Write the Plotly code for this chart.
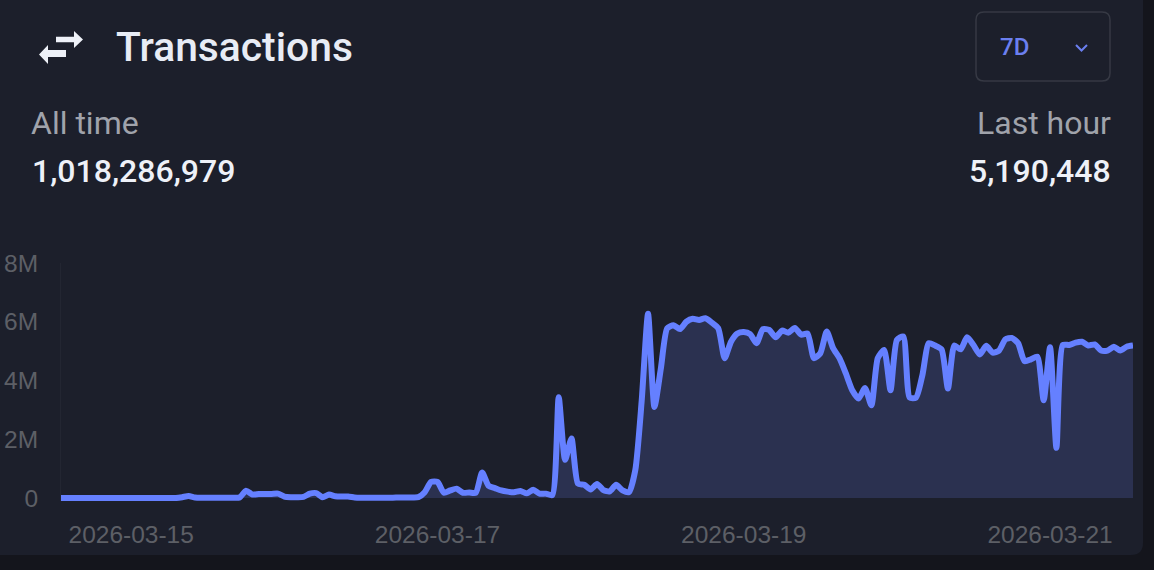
import pandas as pd
import plotly.graph_objects as go

W, H = 1154, 570
LEFT, RIGHT, TOP, BOTTOM = 61, 1133, 263, 501

# hourly transactions, in millions
values = [
    0.0, 0.0, 0.0, 0.0, 0.0, 0.0, 0.0, 0.0, 0.0, 0.0,
    0.0, 0.0, 0.0, 0.0, 0.0, 0.0, 0.0, 0.0, 0.0, 0.03,
    0.07, 0.02, 0.01, 0.01, 0.01, 0.01, 0.01, 0.01, 0.02, 0.25,
    0.12, 0.14, 0.14, 0.14, 0.15, 0.05, 0.03, 0.03, 0.04, 0.15,
    0.17, 0.03, 0.12, 0.06, 0.05, 0.05, 0.02, 0.01, 0.01, 0.01,
    0.01, 0.01, 0.01, 0.02, 0.02, 0.02, 0.03, 0.2, 0.55, 0.55,
    0.18, 0.26, 0.32, 0.18, 0.19, 0.18, 0.87, 0.42, 0.34, 0.26,
    0.22, 0.2, 0.24, 0.16, 0.28, 0.15, 0.15, 0.1, 3.43, 1.3,
    2.03, 0.5, 0.45, 0.29, 0.48, 0.27, 0.23, 0.45, 0.26, 0.2,
    0.95, 3.3, 6.27, 3.1, 4.4, 5.78, 5.88, 5.75, 6.0, 6.1,
    6.06, 6.12, 5.97, 5.78, 4.76, 5.32, 5.6, 5.65, 5.58, 5.27,
    5.75, 5.72, 5.47, 5.7, 5.63, 5.79, 5.56, 5.6, 4.76, 4.93,
    5.67, 5.1, 4.76, 4.24, 3.67, 3.39, 3.75, 3.16, 4.76, 5.04,
    3.67, 5.38, 5.5, 3.42, 3.42, 4.19, 5.27, 5.19, 5.06, 3.73,
    5.19, 5.06, 5.47, 5.21, 4.89, 5.18, 4.95, 5.02, 5.4, 5.45,
    5.27, 4.66, 4.72, 4.81, 3.33, 5.13, 1.71, 5.21, 5.21, 5.29,
    5.32, 5.19, 5.23, 5.02, 5.02, 5.15, 5.02, 5.15, 5.19,
]
dates = pd.date_range("2026-03-14 13:00", periods=len(values), freq="h")
y_ticks = [0, 2, 4, 6, 8]
y_tick_labels = ["0", "2M", "4M", "6M", "8M"]
x_ticks = ["2026-03-15", "2026-03-17", "2026-03-19", "2026-03-21"]

title = "Transactions"
range_label = "7D"
all_time_label, all_time_value = "All time", "1,018,286,979"
last_hour_label, last_hour_value = "Last hour", "5,190,448"

PAGE = "#14151c"
CARD = "#1c1f2b"
BLUE = "#6580ff"
TICK = "#5d5f66"


# paper coordinates run over the plot area, so convert from page pixels
def px(x):
    return (x - LEFT) / (RIGHT - LEFT)


def py(y):
    return (BOTTOM - y) / (BOTTOM - TOP)


def path(points, close=False):
    d = "M " + " L ".join(f"{px(x):.5f},{py(y):.5f}" for x, y in points)
    return d + (" Z" if close else "")


def rounded(x0, y0, x1, y1, r):
    # rounded rectangle in pixel coordinates
    fx, fy = px, py
    return (
        f"M {fx(x0 + r)},{fy(y0)} L {fx(x1 - r)},{fy(y0)} Q {fx(x1)},{fy(y0)} {fx(x1)},{fy(y0 + r)} "
        f"L {fx(x1)},{fy(y1 - r)} Q {fx(x1)},{fy(y1)} {fx(x1 - r)},{fy(y1)} "
        f"L {fx(x0 + r)},{fy(y1)} Q {fx(x0)},{fy(y1)} {fx(x0)},{fy(y1 - r)} "
        f"L {fx(x0)},{fy(y0 + r)} Q {fx(x0)},{fy(y0)} {fx(x0 + r)},{fy(y0)} Z"
    )


def label(text, x, y, size, color, anchor="left", weight=400, family="Roboto"):
    return dict(
        text=text, x=px(x), y=py(y), xref="paper", yref="paper",
        xanchor=anchor, yanchor="middle", showarrow=False,
        xshift=0, borderpad=0, borderwidth=0,
        font=dict(family=family, size=size, color=color, weight=weight),
    )


fig = go.Figure()
fig.add_trace(go.Scatter(
    x=dates,
    y=values,
    mode="lines",
    line=dict(color=BLUE, width=6, shape="spline", smoothing=0.6),
    fill="tozeroy",
    fillcolor="#2b3150",
    hoverinfo="skip",
))

shapes = [
    dict(type="path", path=rounded(-30, -30, 1143, 555, 12), xref="paper", yref="paper",
         fillcolor=CARD, line_width=0, layer="below"),
    dict(type="path", path=rounded(976, 12, 1110, 81, 8), xref="paper", yref="paper",
         fillcolor="rgba(0,0,0,0)", line=dict(color="#363944", width=1.5)),
    dict(type="path", path=path([(1076, 45), (1081.5, 50.5), (1087, 45)]), xref="paper", yref="paper",
         line=dict(color="#6b7ff0", width=2)),
    # swap arrows icon
    dict(type="path", path=path([(56, 36.7), (74, 36.7), (74, 31), (83, 39.5), (74, 48), (74, 42.3), (56, 42.3)], True),
         xref="paper", yref="paper", fillcolor="#eef1f8", line_width=0),
    dict(type="path", path=path([(66, 50), (48, 50), (48, 45), (39, 54.5), (48, 64), (48, 57), (66, 57)], True),
         xref="paper", yref="paper", fillcolor="#eef1f8", line_width=0),
]

annotations = [
    label(title, 116, 47, 40.8, "#e8ecf5", weight=500),
    label(range_label, 1000, 47, 24, "#6b7ff0", weight=500),
    label(all_time_label, 31, 123, 32, "#a0a3ab"),
    label(all_time_value, 32, 171, 32, "#eef1f8", weight=500),
    label(last_hour_label, 1111, 123, 32, "#a0a3ab", anchor="right"),
    label(last_hour_value, 1111, 171, 32, "#eef1f8", anchor="right", weight=500),
]

fig.update_layout(
    width=W,
    height=H,
    margin=dict(l=LEFT, r=W - RIGHT, t=TOP, b=H - BOTTOM),
    paper_bgcolor=PAGE,
    plot_bgcolor="rgba(0,0,0,0)",
    showlegend=False,
    shapes=shapes,
    annotations=annotations,
)
fig.update_xaxes(
    type="date",
    range=[dates[0], dates[-1]],
    tickvals=x_ticks,
    ticktext=x_ticks,
    tickfont=dict(family="Liberation Sans", size=24.5, color=TICK),
    showgrid=False,
    zeroline=False,
    showline=False,
    ticks="",
    automargin=False,
    ticklabelstandoff=16,
)
fig.update_yaxes(
    range=[-0.1, 8],
    tickvals=y_ticks,
    ticktext=y_tick_labels,
    tickfont=dict(family="Liberation Sans", size=24.5, color=TICK),
    showgrid=False,
    zeroline=False,
    showline=True,
    linecolor="#232632",
    ticks="",
    automargin=False,
    ticklabelstandoff=17,
)

fig.write_html(
    "out.html",
    config=dict(displayModeBar=False),
    post_script="document.body.style.margin='0';document.body.style.background='%s';" % PAGE,
)
